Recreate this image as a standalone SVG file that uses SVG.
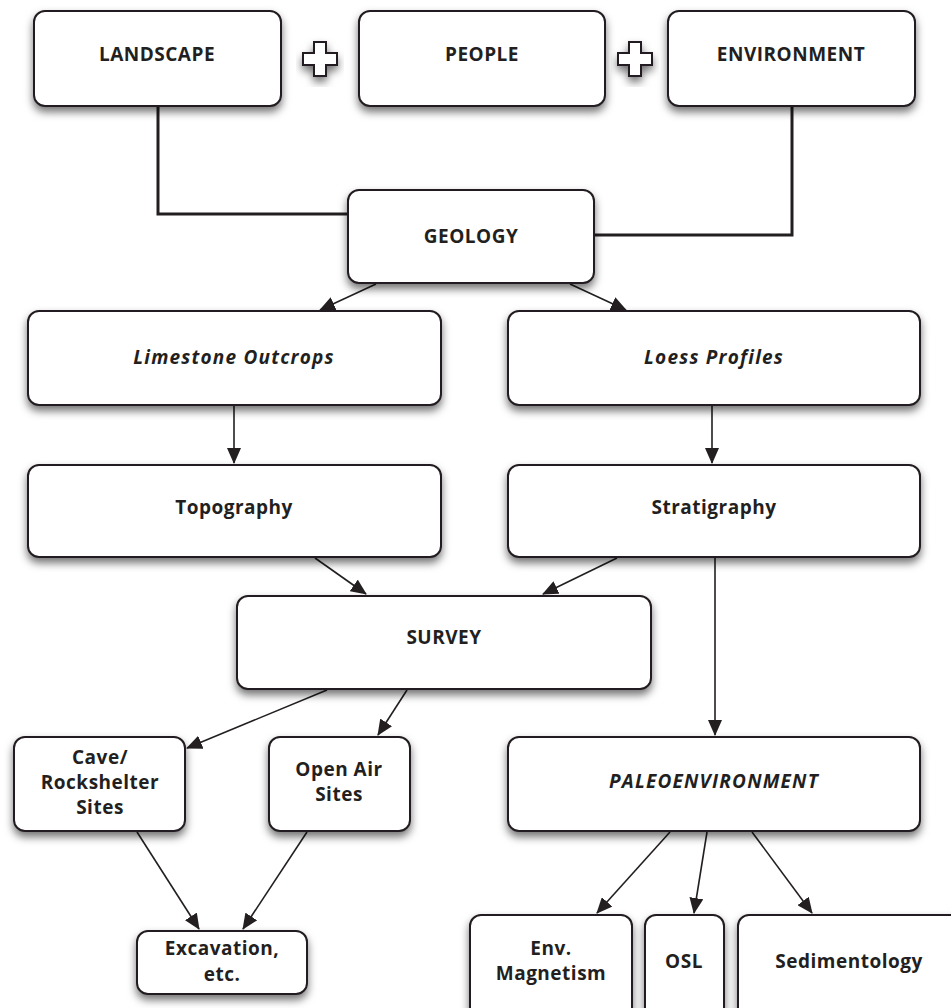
<svg xmlns="http://www.w3.org/2000/svg" width="951" height="1008" viewBox="0 0 951 1008">
<defs>
<filter id="sh" x="-20%" y="-20%" width="140%" height="150%">
<feDropShadow dx="0" dy="5" stdDeviation="4" flood-color="#000" flood-opacity="0.55"/>
</filter>
<marker id="ah" markerWidth="16" markerHeight="14" refX="15" refY="7" orient="auto" markerUnits="userSpaceOnUse">
<path d="M0,0 L16,7 L0,14 Z" fill="#231f20"/>
</marker>
<style>
.box{fill:#fff;stroke:#231f20;stroke-width:2;filter:url(#sh)}
.t{font-family:"Open Sans","Liberation Sans",sans-serif;font-weight:bold;font-size:19px;letter-spacing:0.5px;fill:#231f20;text-anchor:middle}
.i{font-style:italic;letter-spacing:1.2px}
.thick{fill:none;stroke:#231f20;stroke-width:3}
.arr{fill:none;stroke:#231f20;stroke-width:1.6;marker-end:url(#ah)}
.plus{fill:#fff;stroke:#231f20;stroke-width:2;filter:url(#sh)}
</style>
</defs>
<rect width="951" height="1008" fill="#fff"/>
<g id="connectors">
<polyline class="thick" points="158,106 158,214 348,214"/>
<polyline class="thick" points="792,106 792,235 594,235"/>
<line class="arr" x1="376" y1="284" x2="320" y2="310"/>
<line class="arr" x1="570" y1="284" x2="626" y2="310"/>
<line class="arr" x1="234" y1="406" x2="234" y2="463"/>
<line class="arr" x1="712" y1="406" x2="712" y2="463"/>
<line class="arr" x1="315" y1="558" x2="366" y2="594"/>
<line class="arr" x1="617" y1="558" x2="543" y2="594"/>
<line class="arr" x1="715" y1="558" x2="715" y2="735"/>
<line class="arr" x1="327" y1="690" x2="187" y2="748"/>
<line class="arr" x1="407" y1="690" x2="378" y2="735"/>
<line class="arr" x1="137" y1="832" x2="199" y2="929"/>
<line class="arr" x1="307" y1="832" x2="243" y2="929"/>
<line class="arr" x1="670" y1="832" x2="597" y2="913"/>
<line class="arr" x1="707" y1="832" x2="694" y2="913"/>
<line class="arr" x1="752" y1="832" x2="812" y2="913"/>
</g>
<g id="plus1"><path class="plus" d="M314,42 h12 v11 h11 v12 h-11 v11 h-12 v-11 h-11 v-12 h11 Z"/></g>
<g id="plus2"><path class="plus" d="M629,42 h12 v11 h11 v12 h-11 v11 h-12 v-11 h-11 v-12 h11 Z"/></g>
<g id="landscape"><rect class="box" x="34" y="11" width="247" height="95" rx="11"/><text class="t" x="157" y="61">LANDSCAPE</text></g>
<g id="people"><rect class="box" x="359" y="11" width="246" height="95" rx="11"/><text class="t" x="482" y="61">PEOPLE</text></g>
<g id="environment"><rect class="box" x="668" y="11" width="247" height="95" rx="11"/><text class="t" x="791" y="61">ENVIRONMENT</text></g>
<g id="geology"><rect class="box" x="348" y="190" width="246" height="93" rx="11"/><text class="t" x="471" y="243">GEOLOGY</text></g>
<g id="limestone"><rect class="box" x="28" y="311" width="413" height="94" rx="11"/><text class="t i" x="234" y="364">Limestone Outcrops</text></g>
<g id="loess"><rect class="box" x="508" y="311" width="412" height="94" rx="11"/><text class="t i" x="714" y="364">Loess Profiles</text></g>
<g id="topography"><rect class="box" x="28" y="465" width="413" height="92" rx="11"/><text class="t" x="234" y="514">Topography</text></g>
<g id="stratigraphy"><rect class="box" x="508" y="465" width="412" height="92" rx="11"/><text class="t" x="714" y="514">Stratigraphy</text></g>
<g id="survey"><rect class="box" x="237" y="596" width="414" height="93" rx="11"/><text class="t" x="444" y="644">SURVEY</text></g>
<g id="cave"><rect class="box" x="14" y="737" width="171" height="94" rx="11"/><text class="t" x="100" y="764">Cave/</text><text class="t" x="100" y="789">Rockshelter</text><text class="t" x="100" y="814">Sites</text></g>
<g id="openair"><rect class="box" x="269" y="737" width="141" height="94" rx="11"/><text class="t" x="339" y="776">Open Air</text><text class="t" x="339" y="801">Sites</text></g>
<g id="paleo"><rect class="box" x="508" y="737" width="412" height="94" rx="11"/><text class="t i" x="714" y="788">PALEOENVIRONMENT</text></g>
<g id="excavation"><rect class="box" x="137" y="931" width="170" height="63" rx="11"/><text class="t" x="222" y="955">Excavation,</text><text class="t" x="222" y="981">etc.</text></g>
<g id="envmag"><rect class="box" x="470" y="915" width="162" height="120" rx="11"/><text class="t" x="551" y="955">Env.</text><text class="t" x="551" y="980">Magnetism</text></g>
<g id="osl"><rect class="box" x="645" y="915" width="79" height="120" rx="11"/><text class="t" x="684" y="968">OSL</text></g>
<g id="sedimentology"><rect class="box" x="738" y="915" width="240" height="120" rx="11"/><text class="t" x="849" y="968">Sedimentology</text></g>
</svg>
